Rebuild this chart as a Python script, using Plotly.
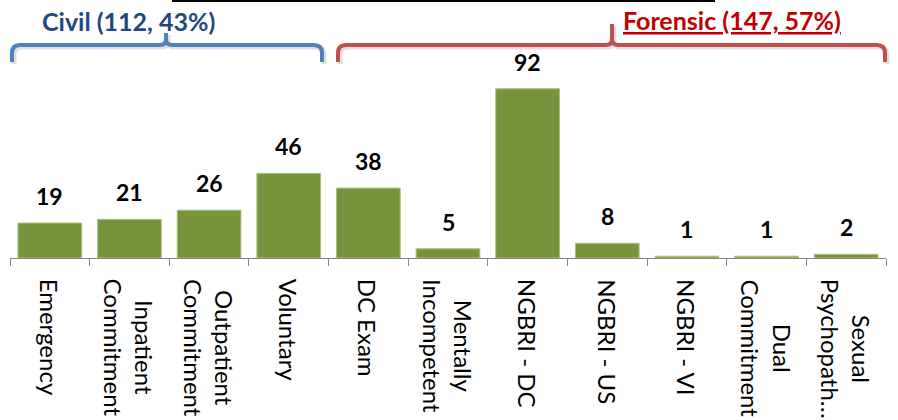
import plotly.graph_objects as go

categories = ["Emergency", "Inpatient<br>Commitment", "Outpatient<br>Commitment", "Voluntary",
              "DC Exam", "Mentally<br>Incompetent", "NGBRI - DC", "NGBRI - US", "NGBRI - VI",
              "Dual<br>Commitment", "Sexual<br>Psychopath…"]
values = [19, 21, 26, 46, 38, 5, 92, 8, 1, 1, 2]
group_labels = ["Civil (112, 43%)", "Forensic (147, 57%)"]

W, H = 898, 420
ML, MR, MT, MB = 10, 12, 30, 162
PW = W - ML - MR
PH = H - MT - MB
PX_PER_UNIT = 1.84


def PX(x):
    return (x - ML) / PW


def PY(y):
    return (H - MB - y) / PH


FONT = "Lato, 'Open Sans', sans-serif"

fig = go.Figure()
fig.add_trace(go.Bar(
    x=categories, y=values,
    marker=dict(color="#77933C", line=dict(color="#A9C47F", width=1)),
    hoverinfo="x+y",
))

annotations = []
# data labels
for c, v in zip(categories, values):
    annotations.append(dict(x=c, y=v, xref="x", yref="y", text=f"<b>{v}</b>",
                            showarrow=False, yanchor="middle", yshift=27,
                            font=dict(family=FONT, size=23, color="black")))
# category labels (rotated)
for c in categories:
    annotations.append(dict(x=c, y=0, xref="x", yref="paper", text=c,
                            showarrow=False, textangle=90, xanchor="center", yanchor="top",
                            yshift=-19, align="center",
                            font=dict(family=FONT, size=24, color="black")))
# group titles
annotations.append(dict(x=PX(128), y=PY(21), xref="paper", yref="paper",
                        text=f"<b>{group_labels[0]}</b>", showarrow=False,
                        xanchor="center", yanchor="middle",
                        font=dict(family=FONT, size=25, color="#1F497D")))
annotations.append(dict(x=PX(732), y=PY(20), xref="paper", yref="paper",
                        text=f"<b><u>{group_labels[1]}</u></b>", showarrow=False,
                        xanchor="center", yanchor="middle",
                        font=dict(family=FONT, size=25, color="#C00000")))


def brace(left, right, tip, ybar, yend, ytip, r=8):
    return (f"M {PX(left)},{PY(yend)} L {PX(left)},{PY(ybar + r)} "
            f"Q {PX(left)},{PY(ybar)} {PX(left + r)},{PY(ybar)} "
            f"L {PX(tip - 6)},{PY(ybar)} Q {PX(tip)},{PY(ybar)} {PX(tip)},{PY(ybar - 6)} "
            f"L {PX(tip)},{PY(ytip)} M {PX(tip)},{PY(ybar - 6)} "
            f"Q {PX(tip)},{PY(ybar)} {PX(tip + 6)},{PY(ybar)} "
            f"L {PX(right - r)},{PY(ybar)} Q {PX(right)},{PY(ybar)} {PX(right)},{PY(ybar + r)} "
            f"L {PX(right)},{PY(yend)}")


shapes = []
for (l, rr, t, yt, col) in [(12, 322, 166, 33, "#4F81BD"), (338, 885, 612, 24, "#C0504D")]:
    shapes.append(dict(type="path", xref="paper", yref="paper",
                       path=brace(l + 2, rr + 2, t + 2, 47, 64, yt + 2),
                       line=dict(color="rgba(0,0,0,0.12)", width=5)))
    shapes.append(dict(type="path", xref="paper", yref="paper",
                       path=brace(l, rr, t, 45, 62, yt),
                       line=dict(color=col, width=4)))
# thin black line at the very top
shapes.append(dict(type="line", xref="paper", yref="paper",
                   x0=PX(172), x1=PX(715), y0=PY(1), y1=PY(1),
                   line=dict(color="black", width=2)))

fig.update_layout(
    width=W, height=H,
    margin=dict(l=ML, r=MR, t=MT, b=MB),
    plot_bgcolor="white", paper_bgcolor="white",
    bargap=0.2,
    showlegend=False,
    annotations=annotations,
    shapes=shapes,
    font=dict(family=FONT),
    xaxis=dict(showticklabels=False, showline=True, linecolor="#868686", linewidth=1,
               ticks="outside", ticklen=7, tickcolor="#868686", tickson="boundaries",
               showgrid=False, zeroline=False, fixedrange=True),
    yaxis=dict(visible=False, range=[0, PH / PX_PER_UNIT], showgrid=False,
               zeroline=False, fixedrange=True),
)

fig.write_html("out.html", config={"displayModeBar": False},
               post_script="document.body.style.margin='0';document.body.style.overflow='hidden';")
